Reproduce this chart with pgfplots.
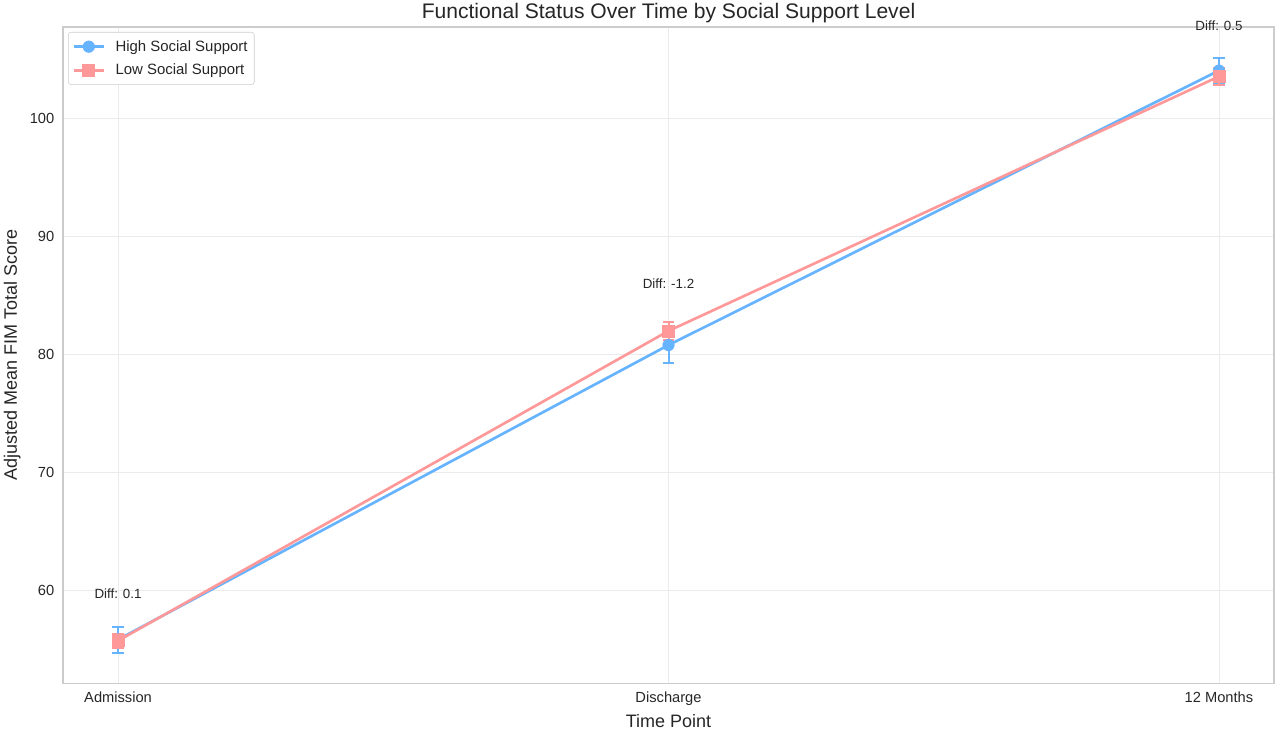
\documentclass[border=0pt]{standalone}
\usepackage{fontspec}
\setmainfont{Liberation Sans}
\usepackage{pgfplots}
\usepackage{pgfplotstable}
\pgfplotsset{compat=1.18}
\definecolor{hiblue}{HTML}{66B3FF}
\definecolor{lopink}{HTML}{FF9999}
\definecolor{gridgray}{HTML}{EBEBEB}
\definecolor{framegray}{HTML}{CCCCCC}
\definecolor{txt}{HTML}{262626}

% x: 0 = Admission, 1 = Discharge, 2 = 12 Months
\pgfplotstableread{
x y err
0 55.8 1.1
1 80.8 1.5
2 104.1 1.1
}\highsupport
\pgfplotstableread{
x y err
0 55.7 0.6
1 82.0 0.8
2 103.6 0.7
}\lowsupport

\begin{document}
\begin{tikzpicture}
\begin{axis}[
    scale only axis,
    width=908pt, height=492pt,
    clip=false,
    xmin=-0.1, xmax=2.1,
    ymin=52.1, ymax=107.8,
    xtick={0,1,2},
    xticklabels={Admission,Discharge,12 Months},
    ytick={60,70,80,90,100},
    grid=major,
    major grid style={gridgray, line width=0.6pt},
    axis line style={framegray, line width=0.8pt},
    major tick length=0pt,
    /pgf/number format/assume math mode=true,
    tick label style={font=\fontsize{11}{13}\selectfont, text=txt},
    xticklabel style={yshift=-3pt},
    yticklabel style={xshift=-3pt},
    xlabel={Time Point},
    ylabel={Adjusted Mean FIM Total Score},
    label style={font=\fontsize{13.5}{16}\selectfont, text=txt},
    title={Functional Status Over Time by Social Support Level},
    title style={font=\fontsize{15.8}{18}\selectfont, text=txt,
        inner sep=0pt, yshift=-3pt},
    legend style={at={(0,1)}, anchor=north west, xshift=3.75pt, yshift=-3.75pt,
        draw=framegray, rounded corners=2pt, fill=white,
        font=\fontsize{11.2}{13}\selectfont, text=txt,
        row sep=4pt, inner xsep=3pt, inner ysep=4pt},
    legend cell align=left,
    legend image code/.code={
        \draw[mark repeat=2, mark phase=2]
        plot coordinates {(0cm,0cm) (0.4cm,0cm) (0.8cm,0cm)};
        \path (1.0cm,0cm);},
]
\addplot[hiblue, line width=2pt, mark=*, mark size=4.3pt,
    mark options={fill=hiblue, draw=hiblue, line width=0.5pt},
    error bars/.cd, y dir=both, y explicit,
    error bar style={line width=1.5pt, hiblue},
    error mark options={rotate=90, mark size=4.2pt, line width=1.5pt, hiblue}]
    table[x=x, y=y, y error=err] {\highsupport};
\addlegendentry{High Social Support}
\addplot[lopink, line width=2pt, mark=square*, mark size=4.5pt,
    mark options={fill=lopink, draw=lopink, line width=0.5pt},
    error bars/.cd, y dir=both, y explicit,
    error bar style={line width=1.5pt, lopink},
    error mark options={rotate=90, mark size=4.2pt, line width=1.5pt, lopink}]
    table[x=x, y=y, y error=err] {\lowsupport};
\addlegendentry{Low Social Support}

\node[font=\fontsize{10}{12}\selectfont, text=txt] at (axis cs:0,59.7) {Diff: 0.1};
\node[font=\fontsize{10}{12}\selectfont, text=txt] at (axis cs:1,86.0) {Diff: -1.2};
\node[font=\fontsize{10}{12}\selectfont, text=txt] at (axis cs:2,107.9) {Diff: 0.5};
\end{axis}
\pgfresetboundingbox
\path[use as bounding box]
    ([xshift=-47.25pt, yshift=-35.25pt]current axis.south west)
    rectangle ([xshift=4.5pt, yshift=20.25pt]current axis.north east);
\end{tikzpicture}
\end{document}
